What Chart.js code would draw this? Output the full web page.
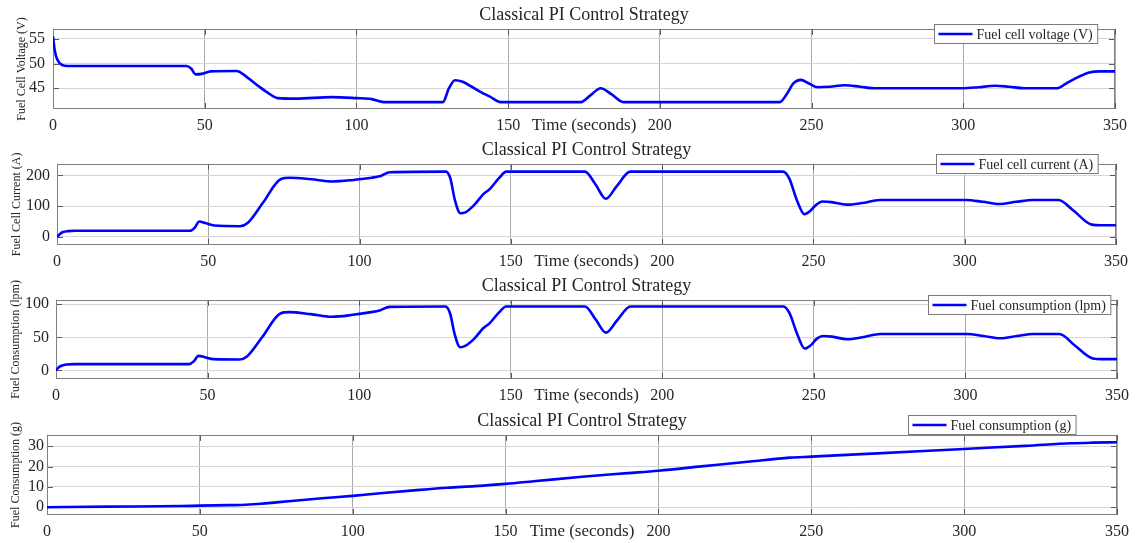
<!DOCTYPE html>
<html>
<head>
<meta charset="utf-8">
<title>Classical PI Control Strategy</title>
<script src="https://cdn.jsdelivr.net/npm/chart.js@4.4.1/dist/chart.umd.min.js"></script>
<style>
  html, body { margin: 0; padding: 0; background: #fff; }
  #wrap { position: relative; width: 1136px; height: 543px; overflow: hidden; }
  .panel { position: absolute; left: 0; width: 1136px; }
</style>
</head>
<body>
<div id="wrap">
  <div class="panel" style="top:0px;height:140px"><canvas id="c1" width="1136" height="140"></canvas></div>
  <div class="panel" style="top:137px;height:137px"><canvas id="c2" width="1136" height="137"></canvas></div>
  <div class="panel" style="top:274px;height:135px"><canvas id="c3" width="1136" height="135"></canvas></div>
  <div class="panel" style="top:409px;height:134px"><canvas id="c4" width="1136" height="134"></canvas></div>
</div>
<script>
// data
const timeTicks = [0, 50, 100, 150, 200, 250, 300, 350];

const voltageTime = [0, 0.5, 1, 2, 3, 5, 44, 45.5, 47, 49, 52, 60.5, 64, 68, 71, 74, 80, 92, 100, 105, 109,
  128.5, 130.5, 132.5, 135, 138, 141, 144, 147.5, 174, 177, 180.5, 184, 188, 239.5, 242, 244, 246.5, 249,
  252, 256, 261, 266, 271, 300, 305, 310.5, 315, 320, 331, 334, 338, 341.5, 345, 350];
const voltageValues = [55.5, 53, 51.5, 50.2, 49.7, 49.5, 49.5, 49.0, 47.8, 47.9, 48.4, 48.5, 47.2, 45.3, 44.0, 43.0, 42.9, 43.2, 43.0, 42.8, 42.2,
  42.2, 45.0, 46.6, 46.3, 45.3, 44.2, 43.3, 42.2, 42.2, 43.5, 45.0, 43.8, 42.2, 42.2, 44.0, 46.0, 46.7, 46.0,
  45.2, 45.3, 45.6, 45.3, 45.0, 45.0, 45.2, 45.5, 45.3, 45.0, 45.0, 46.0, 47.3, 48.2, 48.4, 48.4];
const voltageTicks = [45, 50, 55];

const flowTime = [0, 1, 2, 3.5, 6, 44, 45.5, 47, 49, 52, 60.5, 63, 68, 74, 77, 84, 91, 98, 104, 107, 110,
  128.5, 130, 131.5, 133.3, 135, 138, 141, 143, 146, 148.5, 174.5, 178, 181.4, 185, 189.5, 240, 242, 244.5, 247,
  249, 251, 253, 256, 261, 266, 272, 300.5, 306, 311.5, 317, 322.5, 331, 336, 342, 345, 350];
const currentValues = [0, 10, 16, 19, 20, 20, 30, 50, 45, 37, 35, 45, 110, 188, 192, 187, 180, 185, 192, 198, 210,
  212, 190, 120, 77, 80, 105, 140, 155, 190, 212, 212, 170, 124, 165, 212, 212, 190, 120, 74,
  85, 105, 115, 113, 105, 110, 120, 120, 114, 107, 114, 120, 120, 85, 40, 38, 38];
const currentTicks = [0, 100, 200];

const lpmValues = [0, 5, 7.5, 9, 9.5, 9.5, 14, 22, 20, 17, 16.5, 21, 50, 86, 88, 85, 81, 84, 88, 91, 96,
  96.5, 86, 55, 35, 37, 48, 64, 71, 87, 96.5, 96.5, 77, 57, 75, 96.5, 96.5, 86, 55, 33,
  38, 48, 52, 51, 47, 50, 55, 55, 52, 48.5, 52, 55, 55, 38, 18, 17, 17];
const lpmTicks = [0, 50, 100];

const gramTime = [0, 20, 44, 50, 60, 65, 70, 75, 80, 90, 100, 109, 120, 131, 140, 150, 160, 175, 190, 200,
  214, 230, 243, 250, 270, 300, 320, 335, 342, 350];
const gramValues = [0, 0.3, 0.6, 0.8, 1.05, 1.25, 1.7, 2.4, 3.1, 4.4, 5.6, 6.9, 8.3, 9.6, 10.4, 11.5, 12.9, 15.0, 16.8, 18.0,
  20.1, 22.5, 24.4, 24.9, 26.4, 28.7, 30.2, 31.5, 31.8, 32.0];
const gramTicks = [0, 10, 20, 30];

const FONT = "'Liberation Serif', 'Times New Roman', serif";
const TEXT = '#262626';

function toPoints(xs, ys) {
  return xs.map((x, i) => ({ x: x, y: ys[i] }));
}

// frame box, inner tick marks and a boxed legend
const panelFrame = {
  id: 'panelFrame',
  beforeDatasetsDraw(chart) {
    const a = chart.chartArea, ctx = chart.ctx;
    const seg = (x1, y1, x2, y2) => { ctx.beginPath(); ctx.moveTo(x1, y1); ctx.lineTo(x2, y2); ctx.stroke(); };
    ctx.save();
    ctx.lineWidth = 1;
    ctx.strokeStyle = '#5a5a5a';
    chart.scales.y.ticks.forEach((t) => {
      const py = Math.round(chart.scales.y.getPixelForValue(t.value)) + 0.5;
      seg(a.left, py, a.left + 6, py);
      seg(a.right - 6, py, a.right, py);
    });
    chart.scales.x.ticks.forEach((t) => {
      const px = Math.round(chart.scales.x.getPixelForValue(t.value)) + 0.5;
      seg(px, a.bottom, px, a.bottom - 6);
      seg(px, a.top, px, a.top + 6);
    });
    ctx.strokeStyle = '#808080';
    ctx.strokeRect(Math.round(a.left) + 0.5, Math.round(a.top) + 0.5,
      Math.round(a.right - a.left) - 1, Math.round(a.bottom - a.top) - 1);
    ctx.restore();
  },
  afterDraw(chart, args, opts) {
    const a = chart.chartArea, ctx = chart.ctx;
    const label = chart.data.datasets[0].label;
    ctx.save();
    ctx.font = '14px ' + FONT;
    const tw = ctx.measureText(label).width;
    const w = 4 + 34 + 4 + tw + 5, h = 19;
    const x = Math.round(a.right - opts.inset - w) + 0.5;
    const y = Math.round(a.top + opts.dy) + 0.5;
    ctx.fillStyle = '#fff';
    ctx.fillRect(x, y, w, h);
    ctx.strokeStyle = '#7a7a7a';
    ctx.lineWidth = 1;
    ctx.strokeRect(x, y, w, h);
    ctx.strokeStyle = '#0000ff';
    ctx.lineWidth = 2.6;
    ctx.beginPath();
    ctx.moveTo(x + 4, y + h / 2);
    ctx.lineTo(x + 38, y + h / 2);
    ctx.stroke();
    ctx.fillStyle = TEXT;
    ctx.textBaseline = 'middle';
    ctx.fillText(label, x + 42, y + h / 2 + 1);
    ctx.restore();
  }
};

function drawPanel(id, geo, label, yTitle, points, yTicks, yMin, yMax, legendPos) {
  const canvas = document.getElementById(id);
  const H = canvas.height;
  const top = geo.top - geo.y0, bottom = geo.bottom - geo.y0;
  new Chart(canvas.getContext('2d'), {
    type: 'line',
    data: {
      datasets: [{
        label: label,
        data: points,
        borderColor: '#0000ff',
        borderWidth: 2.6,
        pointRadius: 0,
        fill: false,
        cubicInterpolationMode: 'monotone'
      }]
    },
    plugins: [panelFrame],
    options: {
      responsive: false,
      animation: false,
      events: [],
      layout: { padding: { left: 0, right: 1136 - geo.right, top: 0, bottom: 0 } },
      plugins: {
        legend: { display: false },
        tooltip: { enabled: false },
        title: {
          display: true,
          text: 'Classical PI Control Strategy',
          fullSize: false,
          color: TEXT,
          font: { family: FONT, size: 18, weight: 'normal', lineHeight: 1.2 },
          padding: { top: top - 24.9, bottom: 3.2 }
        },
        panelFrame: legendPos
      },
      scales: {
        x: {
          type: 'linear',
          min: 0,
          max: 350,
          afterBuildTicks: (s) => { s.ticks = timeTicks.map((v) => ({ value: v })); },
          afterFit: (s) => { s.height = H - bottom; },
          grid: { color: '#a8a8a8', drawTicks: false },
          border: { display: false },
          ticks: { color: TEXT, padding: 7, maxRotation: 0, font: { family: FONT, size: 16 } },
          title: {
            display: true,
            text: 'Time (seconds)',
            color: TEXT,
            font: { family: FONT, size: 17, lineHeight: 1 },
            padding: { top: 0, bottom: H - (bottom + 16.6) - 8.5 }
          }
        },
        y: {
          min: yMin,
          max: yMax,
          afterBuildTicks: (s) => { s.ticks = yTicks.map((v) => ({ value: v })); },
          afterFit: (s) => { s.width = geo.left; },
          grid: { color: '#d6d6d6', drawTicks: false },
          border: { display: false },
          ticks: { color: TEXT, padding: geo.tickPad, font: { family: FONT, size: 16 } },
          title: {
            display: true,
            text: yTitle,
            color: TEXT,
            font: { family: FONT, size: 12, lineHeight: 1 },
            padding: { top: geo.titleX - 6, bottom: 0 }
          }
        }
      }
    }
  });
}

drawPanel('c1', { y0: 0, left: 53, top: 29, right: 1115, bottom: 109, tickPad: 8, titleX: 22 },
  'Fuel cell voltage (V)', 'Fuel Cell Voltage (V)', toPoints(voltageTime, voltageValues),
  voltageTicks, 40.8, 57, { inset: 18, dy: -5 });

drawPanel('c2', { y0: 137, left: 57, top: 164, right: 1116, bottom: 245, tickPad: 7, titleX: 16.5 },
  'Fuel cell current (A)', 'Fuel Cell Current (A)', toPoints(flowTime, currentValues),
  currentTicks, -26, 237, { inset: 18, dy: -10 });

drawPanel('c3', { y0: 274, left: 56, top: 300, right: 1117, bottom: 379, tickPad: 7, titleX: 16 },
  'Fuel consumption (lpm)', 'Fuel Consumption (lpm)', toPoints(flowTime, lpmValues),
  lpmTicks, -13, 106.5, { inset: 7, dy: -5 });

drawPanel('c4', { y0: 409, left: 47, top: 435, right: 1117, bottom: 515, tickPad: 3, titleX: 15.7 },
  'Fuel consumption (g)', 'Fuel Consumption (g)', toPoints(gramTime, gramValues),
  gramTicks, -3.8, 35.6, { inset: 41, dy: -20 });
</script>
</body>
</html>
